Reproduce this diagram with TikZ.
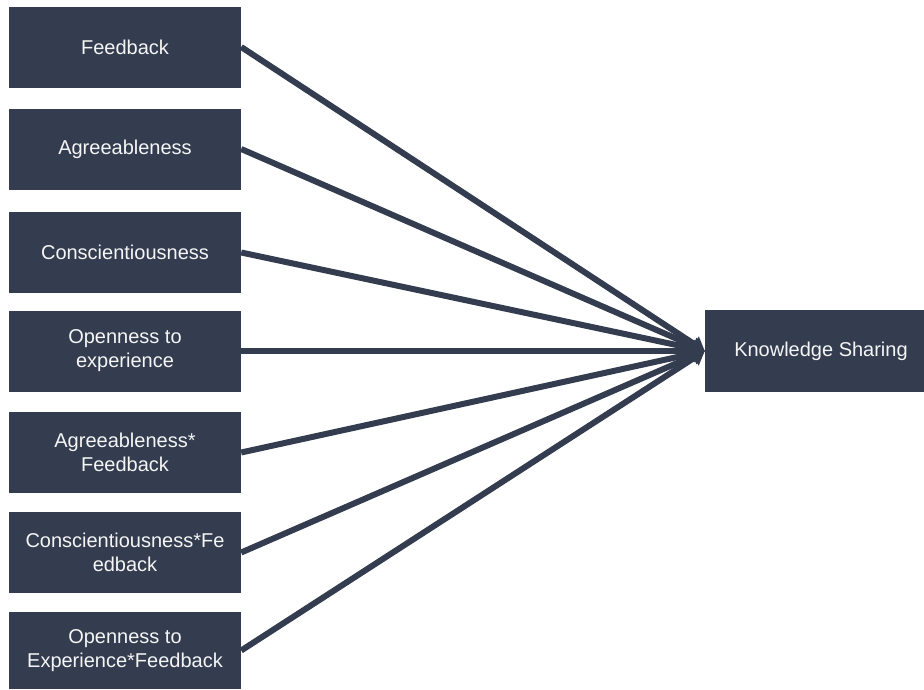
\documentclass[tikz,border=0pt]{standalone}
\usepackage{fontspec}
\setmainfont{Liberation Sans}
\usetikzlibrary{arrows.meta}
\definecolor{slate}{RGB}{51,61,79}
\definecolor{boxtext}{RGB}{245,245,245}
\tikzset{
  varbox/.style={rectangle, fill=slate, text=boxtext, inner sep=0pt,
    minimum width=232pt, minimum height=81pt, align=center,
    font=\fontsize{20}{24}\selectfont},
  conn/.style={draw=slate, line width=6pt, -{Triangle[length=13pt,width=17pt]}}
}
\begin{document}
\begin{tikzpicture}[x=1pt,y=-1pt]
\useasboundingbox (0,0) rectangle (924,689);
\node[varbox] (fb) at (125,47) {Feedback};
\node[varbox] (ag) at (125,149) {Agreeableness};
\node[varbox] (co) at (125,252.5) {Conscientiousness};
\node[varbox] (op) at (125,351) {Openness to\\experience};
\node[varbox] (agf) at (125,452.5) {Agreeableness*\\Feedback};
\node[varbox] (cof) at (125,552.5) {Conscientiousness*Fe\\edback};
\node[varbox, minimum height=77pt] (opf) at (125,650.5) {Openness to\\Experience*Feedback};
\node[varbox, minimum width=232pt, minimum height=82pt] (ks) at (821,351) {Knowledge Sharing};
\foreach \n in {fb,ag,co,op,agf,cof,opf}
  \draw[conn] (\n.east) -- (ks.west);
\end{tikzpicture}
\end{document}
